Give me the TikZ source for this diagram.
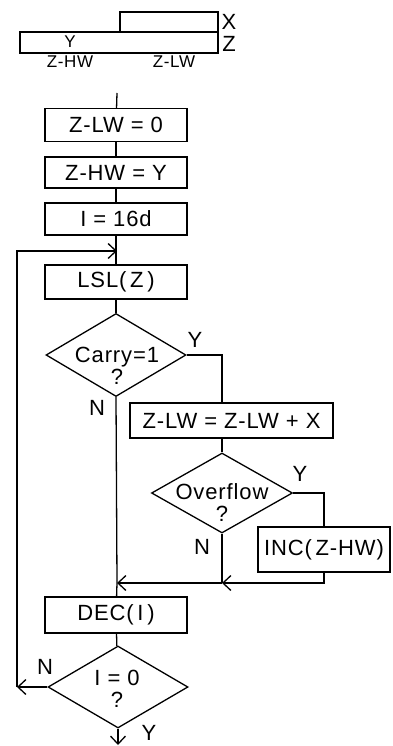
\documentclass[tikz,border=0pt]{standalone}
\usepackage{fontspec}
\setmainfont{Liberation Sans}[LetterSpace=4]
\usetikzlibrary{shapes.geometric,arrows.meta,positioning,calc}

\begin{document}
\begin{tikzpicture}[
    x=1pt, y=-1pt,
    every node/.style={font=\fontsize{22}{19}\selectfont},
    opbox/.style={rectangle, draw, line width=1.3pt, minimum width=142pt, minimum height=33pt, inner sep=0pt},
    decision/.style={diamond, draw, line width=1.3pt, minimum width=140pt, minimum height=82pt, inner sep=0pt},
    query/.style={align=center, inner sep=0pt, font=\fontsize{22}{22}\selectfont},
    reg/.style={rectangle, draw, line width=1.3pt, minimum height=20pt, inner sep=0pt},
    flow/.style={line width=1.3pt},
    arrow/.style={line width=1.3pt, -{Straight Barb[length=8pt,width=15pt]}},
    small/.style={font=\fontsize{17}{19}\selectfont}
]
\useasboundingbox (0,0) rectangle (392,746);

% Register layout
\node[reg, minimum width=98pt] (regx) at (169,22) {};
\node[reg, minimum width=198pt, minimum height=21pt] (regz) at (119,42.5) {};
\node (lx) at (229,22) {X};
\node (lz) at (229,44) {Z};
\node[small] (ly) at (70,42) {Y};
\node[small] (lhw) at (70,62) {Z-HW};
\node[small] (llw) at (174,62) {Z-LW};

% Steps
\coordinate (start) at (117,93);
\node[opbox] (clrlw) at (116,125) {Z-LW = 0};
\node[opbox, minimum height=31pt] (sethw) at (116,172.5) {Z-HW = Y};
\node[opbox, minimum height=32pt] (seti) at (116,219) {I = 16d};
\node[opbox, minimum height=34pt] (lsl) at (116,282) {LSL(\,Z\,)};
\node[decision, minimum height=83pt] (carry) at (116,355) {};
\node[query] (qcarry) at (117,366) {Carry=1\\?};
\node[opbox, minimum width=203pt, minimum height=35pt] (addx) at (231.5,420.5) {Z-LW = Z-LW + X};
\node[decision, minimum width=141pt, minimum height=80pt] (ovf) at (222,493) {};
\node[query] (qovf) at (222,503) {Overflow\\?};
\node[opbox, minimum width=132pt, minimum height=45pt] (inchw) at (324,549.5) {INC(\,Z-HW)};
\node[opbox, minimum height=36pt] (deci) at (116,615) {DEC(\,I\,)};
\node[decision] (izero) at (118,687) {};
\node[query] (qzero) at (117,689) {I = 0\\?};

% Branch labels
\node (cy) at (195,340) {Y};
\node (cn) at (97,408) {N};
\node (oy) at (300,474) {Y};
\node (on) at (202,547) {N};
\node (zn) at (45,667) {N};
\node (zy) at (149,733) {Y};

% Join points
\coordinate (loop) at (117,251);
\coordinate (back) at (17,687);
\coordinate (mrgl) at (117,583);
\coordinate (mrgr) at (222,583);
\coordinate (stop) at (118,745);

% Connections
\draw[flow] (start) -- (clrlw);
\draw[flow] (clrlw) -- (sethw);
\draw[flow] (sethw) -- (seti);
\draw[flow] (seti) -- (lsl);
\draw[flow] (lsl) -- (carry);
\draw[flow] (carry.east) -| (addx.north -| ovf.north);
\draw[flow] (addx.south -| ovf.north) -- (ovf);
\draw[flow] (ovf.east) -| (inchw.north);
\draw[arrow] (inchw.south) |- (mrgr);
\draw[arrow] (mrgr) -- (mrgl);
\draw[flow] (ovf.south) -- (mrgr);
\draw[flow] (carry.south) -- (mrgl) -- (deci);
\draw[flow] (deci) -- (izero);
\draw[arrow] (izero.west) -- (back);
\draw[arrow] (back) |- (loop);
\draw[arrow] (izero.south) -- (stop);

\end{tikzpicture}
\end{document}
